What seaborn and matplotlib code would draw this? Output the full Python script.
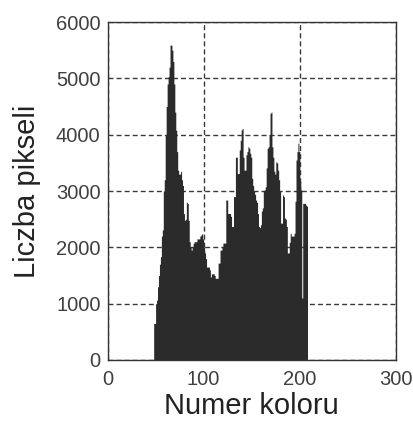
import numpy as np
import pandas as pd
import matplotlib
matplotlib.use('Agg')
import matplotlib.pyplot as plt
import seaborn as sns

# Histogram of colour indices: counts for colours 48..207 (all other bins are empty)
first_colour = 48
pixel_counts = [
    650, 650, 1000, 1065, 1300, 1500, 1700, 1835, 2200, 2310,      # 48-57
    3000, 3200, 4000, 4500, 4900, 5030, 5200, 5590, 5590, 5500,    # 58-67
    5300, 4900, 4400, 4080, 3700, 3370, 3300, 3300, 3350, 3200,    # 68-77
    3100, 2600, 2480, 2500, 2800, 2780, 2480, 2100, 2000, 1950,    # 78-87
    2000, 2070, 2100, 2100, 2100, 2150, 2150, 2150, 2200, 2220,    # 88-97
    2240, 2150, 2000, 1900, 1800, 1650, 1650, 1650, 1600, 1475,    # 98-107
    1530, 1530, 1530, 1500, 1450, 1450, 1450, 1720, 1720, 1950,    # 108-117
    1950, 2000, 2075, 2075, 2075, 2840, 2840, 2600, 2600, 2600,    # 118-127
    2550, 2370, 2370, 2900, 2900, 3600, 3600, 3310, 3310, 3730,    # 128-137
    3900, 4085, 4110, 3600, 3370, 3370, 3645, 3700, 3785, 3760,    # 138-147
    3670, 3600, 3225, 3100, 3000, 2940, 2840, 2800, 2600, 2370,    # 148-157
    2350, 2400, 2645, 2700, 3000, 3020, 3075, 3410, 3760, 3785,    # 158-167
    4000, 4380, 4400, 3785, 3600, 3350, 3300, 3515, 3500, 3370,    # 168-177
    3200, 3000, 2430, 2430, 2930, 2900, 2520, 2500, 2370, 1900,    # 178-187
    1900, 2090, 2250, 2200, 2200, 2200, 2250, 2820, 3550, 3700,    # 188-197
    3850, 3700, 3175, 3020, 1100, 2780, 2780, 2780, 2750, 2730,    # 198-207
]
colours = np.arange(first_colour, first_colour + len(pixel_counts))
df = pd.DataFrame({'colour': colours, 'count': pixel_counts})

x_ticks = [0, 100, 200, 300]
y_ticks = [0, 1000, 2000, 3000, 4000, 5000, 6000]

sns.set_style('white')
plt.rcParams['font.family'] = ['Liberation Sans', 'DejaVu Sans']

fig = plt.figure(figsize=(4.14, 4.21), dpi=100)
ax = fig.add_axes([0.2597, 0.1449, 0.6968, 0.8028])

sns.histplot(data=df, x='colour', weights='count', binwidth=1, binrange=(0, 256),
             element='step', fill=True, color='#2b2b2b', alpha=1,
             linewidth=0, ax=ax, zorder=2)

ax.set_xlim(0, 300)
ax.set_ylim(0, 6000)
ax.set_xticks(x_ticks)
ax.set_yticks(y_ticks)

# dashed grid behind the bars
ax.grid(True, color='#3a3a3a', linestyle=(0, (3.6, 2.2)), linewidth=1.0, zorder=0)
ax.set_axisbelow(True)

for s in ax.spines.values():
    s.set_color('#333333')
    s.set_linewidth(1.0)

ax.tick_params(axis='both', length=0, labelsize=14.5, labelcolor='#404040')
ax.tick_params(axis='y', pad=5)
ax.tick_params(axis='x', pad=7)

ax.set_xlabel('Numer koloru', fontsize=21, color='#222222')
ax.set_ylabel('Liczba pikseli', fontsize=21, color='#222222')
ax.xaxis.set_label_coords(0.5, -0.095)
ax.yaxis.set_label_coords(-0.232, 0.5)

fig.savefig('out.png', dpi=100)
